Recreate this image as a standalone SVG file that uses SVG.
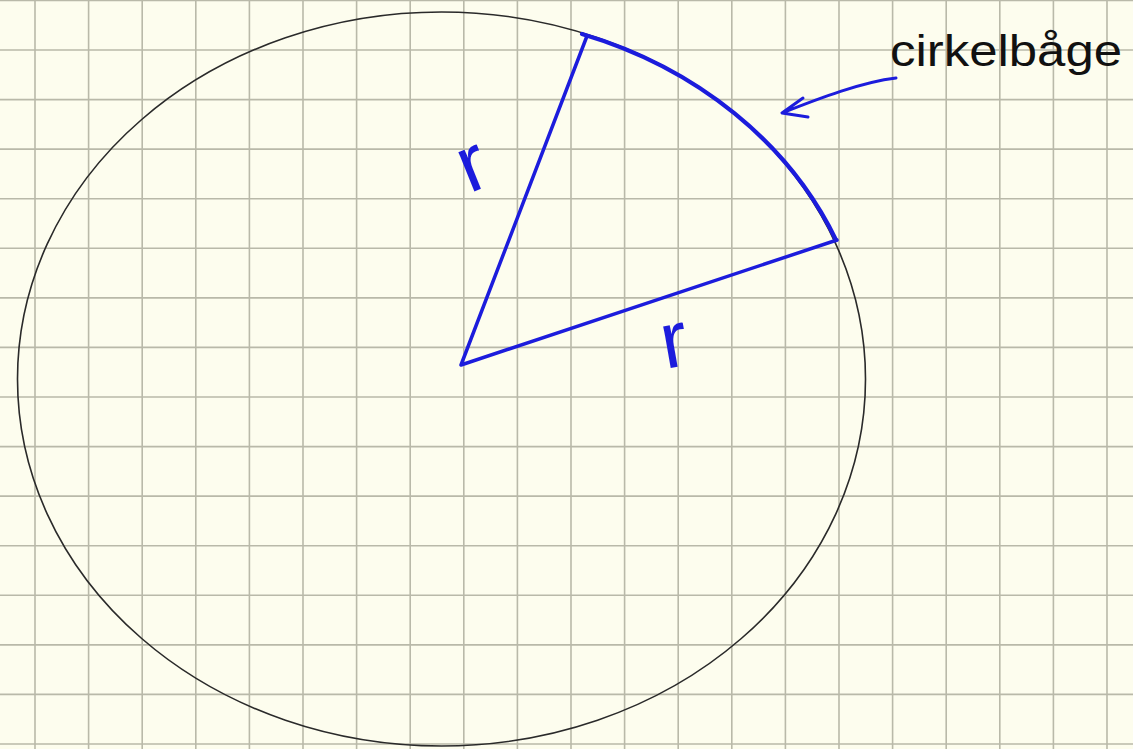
<svg xmlns="http://www.w3.org/2000/svg" width="1133" height="749" viewBox="0 0 1133 749">
<style>
.grid{stroke:#b9b9a9;stroke-width:1.6;fill:none}
.circle{stroke:#2a2a2a;stroke-width:1.6;fill:none}
.blue{stroke:#1c1cdc;fill:none;stroke-linecap:round;stroke-linejoin:round}
.lbl{font-family:"Liberation Sans",Arial,sans-serif;fill:#111}
.r{font-family:"Liberation Sans",Arial,sans-serif;fill:#1c1cdc;font-size:80px;text-anchor:middle}
</style>
<rect width="1133" height="749" fill="#fdfdee"/>
<g id="grid">
<path class="grid" d="M35 0V749M88.6 0V749M142.2 0V749M195.8 0V749M249.4 0V749M303 0V749M356.6 0V749M410.2 0V749M463.8 0V749M517.4 0V749M571 0V749M624.6 0V749M678.2 0V749M731.8 0V749M785.4 0V749M839 0V749M892.6 0V749M946.2 0V749M999.8 0V749M1053.4 0V749M1107 0V749"/>
<path class="grid" d="M0 0.5H1133M0 50H1133M0 99.6H1133M0 149.1H1133M0 198.7H1133M0 248.3H1133M0 297.9H1133M0 347.4H1133M0 397H1133M0 446.6H1133M0 496.1H1133M0 545.7H1133M0 595.3H1133M0 644.9H1133M0 694.4H1133M0 744H1133"/>
</g>
<g id="circle">
<ellipse class="circle" cx="441.5" cy="379" rx="424" ry="367"/>
</g>
<g id="connectors">
<path class="blue" stroke-width="3.5" d="M587 36L461 365L837 240"/>
<path class="blue" stroke-width="4.2" d="M582 34 A424 367 0 0 1 836 240"/>
<path class="blue" stroke-width="3" d="M896 78C862 82 820 98 782 113M803 98L782 113L808 117"/>
</g>
<g id="label-arc">
<text class="lbl" x="890" y="66" font-size="45" textLength="232" lengthAdjust="spacingAndGlyphs">cirkelbåge</text>
</g>
<g id="label-r1">
<text class="r" x="474" y="190" transform="rotate(-22 474 170)">r</text>
</g>
<g id="label-r2">
<text class="r" x="675" y="367" transform="rotate(-10 675 347)">r</text>
</g>
</svg>
